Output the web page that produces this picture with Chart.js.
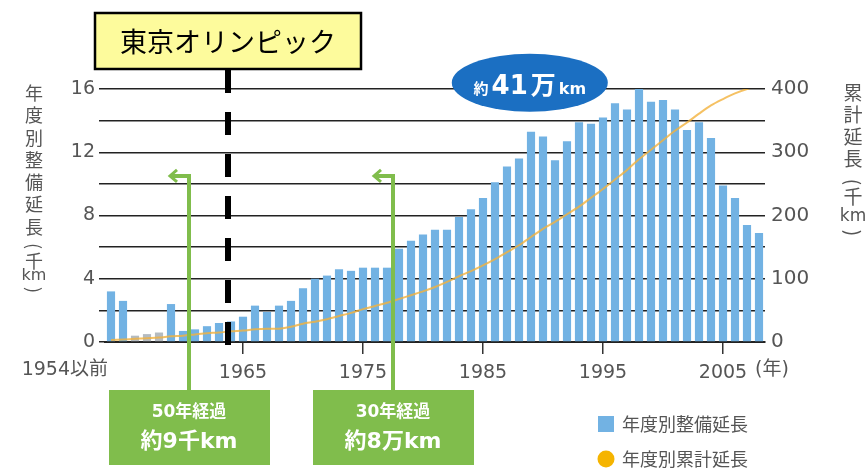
<!DOCTYPE html>
<html>
<head>
<meta charset="utf-8">
<script src="https://cdn.jsdelivr.net/npm/chart.js@4.4.0/dist/chart.umd.min.js"></script>
<style>
  html, body { margin: 0; padding: 0; background: #fff; }
</style>
</head>
<body>
<canvas id="roadChart" width="866" height="468"></canvas>
<script>
// years on the x axis (first bar = 1954 and before)
const years = [
  '1954', '1955', '1956', '1957', '1958', '1959', '1960', '1961', '1962', '1963',
  '1964', '1965', '1966', '1967', '1968', '1969', '1970', '1971', '1972', '1973',
  '1974', '1975', '1976', '1977', '1978', '1979', '1980', '1981', '1982', '1983',
  '1984', '1985', '1986', '1987', '1988', '1989', '1990', '1991', '1992', '1993',
  '1994', '1995', '1996', '1997', '1998', '1999', '2000', '2001', '2002', '2003',
  '2004', '2005', '2006', '2007', '2008'
];

// 年度別整備延長 (千km)
const yearlyKm = [
  3.2, 2.6, 0.4, 0.5, 0.6, 2.4, 0.7, 0.8, 1.0, 1.2,
  1.3, 1.6, 2.3, 1.9, 2.3, 2.6, 3.4, 4.0, 4.2, 4.6,
  4.5, 4.7, 4.7, 4.7, 5.9, 6.4, 6.8, 7.1, 7.1, 7.9,
  8.4, 9.1, 10.1, 11.1, 11.6, 13.3, 13.0, 11.5, 12.7, 13.9,
  13.8, 14.2, 15.1, 14.7, 16.6, 15.2, 15.3, 14.7, 13.4, 13.9,
  12.9, 9.9, 9.1, 7.4, 6.9
];

// 年度別累計延長 (千km)
const totalKm = [
  3, 4, 5, 6, 7, 9, 10, 12, 14, 15,
  17, 18, 20, 21, 21, 24, 29, 32, 36, 41,
  46, 52, 57, 62, 68, 74, 80, 87, 95, 104,
  112, 121, 131, 142, 153, 166, 179, 190, 202, 214,
  228, 242, 257, 272, 289, 304, 319, 334, 347, 361,
  374, 384, 393, 400, 405
];

const labelYears = ['1965', '1975', '1985', '1995', '2005'];

const NUM_FONT = "'DejaVu Sans', 'Noto Sans CJK JP', sans-serif";
const JP_FONT = "'Noto Sans CJK JP', sans-serif";
const TEXT_GREY = '#555';
const BAR_BLUE = '#72b2e3';
const LINE_ORANGE = 'rgba(243, 178, 60, 0.8)';
const DOT_ORANGE = '#f5b400';
const GREEN = '#80bd4c';

const barColors = years.map(y => (y === '1956' || y === '1957' || y === '1958') ? '#b4bbc0' : BAR_BLUE);

function verticalTitle(ctx, cx, items, size) {
  ctx.save();
  ctx.fillStyle = TEXT_GREY;
  ctx.textAlign = 'center';
  ctx.textBaseline = 'middle';
  items.forEach(([ch, cy]) => {
    if (ch === '(' || ch === ')') {
      ctx.save();
      ctx.translate(cx, cy);
      ctx.rotate(Math.PI / 2);
      ctx.font = size + 'px ' + JP_FONT;
      ctx.fillText(ch, 0, 0);
      ctx.restore();
    } else if (ch === 'km') {
      ctx.font = (size - 2) + 'px ' + NUM_FONT;
      ctx.fillText(ch, cx, cy);
    } else {
      ctx.font = size + 'px ' + JP_FONT;
      ctx.fillText(ch, cx, cy);
    }
  });
  ctx.restore();
}

const decorations = {
  id: 'decorations',
  afterDatasetsDraw(chart) {
    const ctx = chart.ctx;
    const xs = chart.scales.x;
    const ys = chart.scales.y;
    const px = y => xs.getPixelForValue(years.indexOf(y));
    const cw = px('1955') - px('1954');

    // Olympic dashed marker
    const ox = px('1964') - cw * 0.25;
    ctx.save();
    ctx.strokeStyle = '#000';
    ctx.lineWidth = 6;
    ctx.setLineDash([23, 19]);
    ctx.beginPath();
    ctx.moveTo(ox, 70);
    ctx.lineTo(ox, ys.getPixelForValue(0) + 5);
    ctx.stroke();
    ctx.restore();

    // green elapsed-years arrows
    const greenTop = ys.getPixelForValue(10.5);
    [px('1960') + cw / 2, px('1977') + cw / 2].forEach(gx => {
      ctx.save();
      ctx.strokeStyle = GREEN;
      ctx.lineWidth = 4;
      ctx.beginPath();
      ctx.moveTo(gx, 392);
      ctx.lineTo(gx, greenTop);
      ctx.lineTo(gx - 17, greenTop);
      ctx.stroke();
      ctx.lineWidth = 3;
      ctx.beginPath();
      ctx.moveTo(gx - 12, greenTop - 6);
      ctx.lineTo(gx - 19, greenTop);
      ctx.lineTo(gx - 12, greenTop + 6);
      ctx.stroke();
      ctx.restore();
    });
  },
  afterDraw(chart) {
    const ctx = chart.ctx;
    const xs = chart.scales.x;
    const ys = chart.scales.y;
    const px = y => xs.getPixelForValue(years.indexOf(y));
    const cw = px('1955') - px('1954');

    // Olympic label box
    const ox = px('1964') - cw * 0.25;
    ctx.save();
    ctx.fillStyle = '#fdfb9c';
    ctx.strokeStyle = '#000';
    ctx.lineWidth = 2.5;
    ctx.fillRect(ox - 133, 13, 266, 56);
    ctx.strokeRect(ox - 133, 13, 266, 56);
    ctx.fillStyle = '#000';
    ctx.font = '27px ' + JP_FONT;
    ctx.textAlign = 'center';
    ctx.textBaseline = 'middle';
    ctx.fillText('東京オリンピック', ox, 42);
    ctx.restore();

    // blue ellipse with total
    const ex = px('1989') - cw * 0.1;
    const ey = ys.getPixelForValue(16.4);
    ctx.save();
    ctx.fillStyle = '#1b6fc2';
    ctx.beginPath();
    ctx.ellipse(ex, ey, 78, 29, 0, 0, Math.PI * 2);
    ctx.fill();
    const parts = [
      ['約', 'bold 15px ' + JP_FONT],
      ['41', 'bold 26px ' + NUM_FONT],
      ['万', 'bold 25px ' + JP_FONT],
      ['km', 'bold 16px ' + NUM_FONT]
    ];
    const gap = 3;
    let total = 0;
    parts.forEach(([t, f]) => { ctx.font = f; total += ctx.measureText(t).width; });
    total += gap * (parts.length - 1);
    let cx = ex - total / 2;
    ctx.fillStyle = '#fff';
    ctx.textAlign = 'left';
    ctx.textBaseline = 'alphabetic';
    parts.forEach(([t, f]) => {
      ctx.font = f;
      ctx.fillText(t, cx, ey + 11);
      cx += ctx.measureText(t).width + gap;
    });
    ctx.restore();

    // green boxes
    const boxes = [
      [px('1960') + cw / 2, '50年経過', '約9千km'],
      [px('1977') + cw / 2, '30年経過', '約8万km']
    ];
    boxes.forEach(([gx, l1, l2]) => {
      ctx.save();
      ctx.fillStyle = GREEN;
      ctx.fillRect(gx - 80, 390, 161, 75);
      ctx.fillStyle = '#fff';
      ctx.textAlign = 'center';
      ctx.textBaseline = 'middle';
      ctx.font = 'bold 17px ' + NUM_FONT;
      ctx.fillText(l1, gx, 413);
      ctx.font = 'bold 22px ' + NUM_FONT;
      ctx.fillText(l2, gx, 442);
      ctx.restore();
    });

    // x axis extra labels
    ctx.save();
    ctx.fillStyle = TEXT_GREY;
    ctx.font = '19px ' + NUM_FONT;
    ctx.textBaseline = 'middle';
    ctx.textAlign = 'right';
    ctx.fillText('1954以前', px('1954') - 3, 370);
    ctx.textAlign = 'left';
    ctx.fillText('(年)', px('2005') + 32, 370);
    ctx.restore();

    // axis titles
    verticalTitle(ctx, 34, [
      ['年', 93], ['度', 115], ['別', 138], ['整', 160], ['備', 182], ['延', 204], ['長', 227],
      ['(', 246], ['千', 261], ['km', 276], [')', 290]
    ], 18);
    verticalTitle(ctx, 853, [
      ['累', 93], ['計', 115], ['延', 137], ['長', 159],
      ['(', 182], ['千', 197], ['km', 217], [')', 233]
    ], 19);

    // legend
    ctx.save();
    ctx.fillStyle = BAR_BLUE;
    ctx.fillRect(598, 416, 16, 16);
    ctx.fillStyle = DOT_ORANGE;
    ctx.beginPath();
    ctx.arc(606, 459, 8.5, 0, Math.PI * 2);
    ctx.fill();
    ctx.fillStyle = TEXT_GREY;
    ctx.font = '18px ' + JP_FONT;
    ctx.textAlign = 'left';
    ctx.textBaseline = 'middle';
    ctx.fillText('年度別整備延長', 622, 424);
    ctx.fillText('年度別累計延長', 622, 459);
    ctx.restore();
  }
};

new Chart(document.getElementById('roadChart').getContext('2d'), {
  data: {
    labels: years,
    datasets: [
      {
        type: 'line',
        label: '年度別累計延長',
        yAxisID: 'y2',
        data: totalKm,
        borderColor: LINE_ORANGE,
        borderWidth: 2,
        pointRadius: 0,
        tension: 0.3,
        order: 0
      },
      {
        type: 'bar',
        label: '年度別整備延長',
        yAxisID: 'y',
        data: yearlyKm,
        backgroundColor: barColors,
        categoryPercentage: 1,
        barPercentage: 0.68,
        order: 1
      }
    ]
  },
  options: {
    responsive: false,
    animation: false,
    layout: { padding: { top: 89, left: 0, right: 0, bottom: 0 } },
    plugins: {
      legend: { display: false },
      tooltip: { enabled: false }
    },
    scales: {
      x: {
        offset: true,
        grid: {
          drawOnChartArea: false,
          offset: false,
          tickLength: 12,
          lineWidth: 1.5,
          color: c => (c.tick && labelYears.includes(years[c.index])) ? '#333' : 'rgba(0,0,0,0)'
        },
        border: { display: true, color: '#222', width: 2 },
        ticks: {
          autoSkip: false,
          maxRotation: 0,
          padding: 8,
          color: TEXT_GREY,
          font: { family: NUM_FONT, size: 19 },
          callback(val, idx) {
            const y = this.getLabelForValue(val);
            return labelYears.includes(y) ? y : '';
          }
        },
        afterFit(scale) { scale.height = 126; }
      },
      y: {
        position: 'left',
        min: 0,
        max: 16,
        grid: { color: '#222', lineWidth: 1.5, tickLength: 6 },
        border: { display: false },
        ticks: {
          stepSize: 2,
          padding: 4,
          color: TEXT_GREY,
          font: { family: NUM_FONT, size: 19 },
          callback: v => (v % 4 === 0 ? v : '')
        },
        afterFit(scale) { scale.width = 105; }
      },
      y2: {
        position: 'right',
        min: 0,
        max: 400,
        grid: { drawOnChartArea: false, drawTicks: false },
        border: { display: false },
        ticks: {
          stepSize: 100,
          padding: 6,
          color: TEXT_GREY,
          font: { family: NUM_FONT, size: 20 }
        },
        afterFit(scale) { scale.width = 101; }
      }
    }
  },
  plugins: [decorations]
});
</script>
</body>
</html>
